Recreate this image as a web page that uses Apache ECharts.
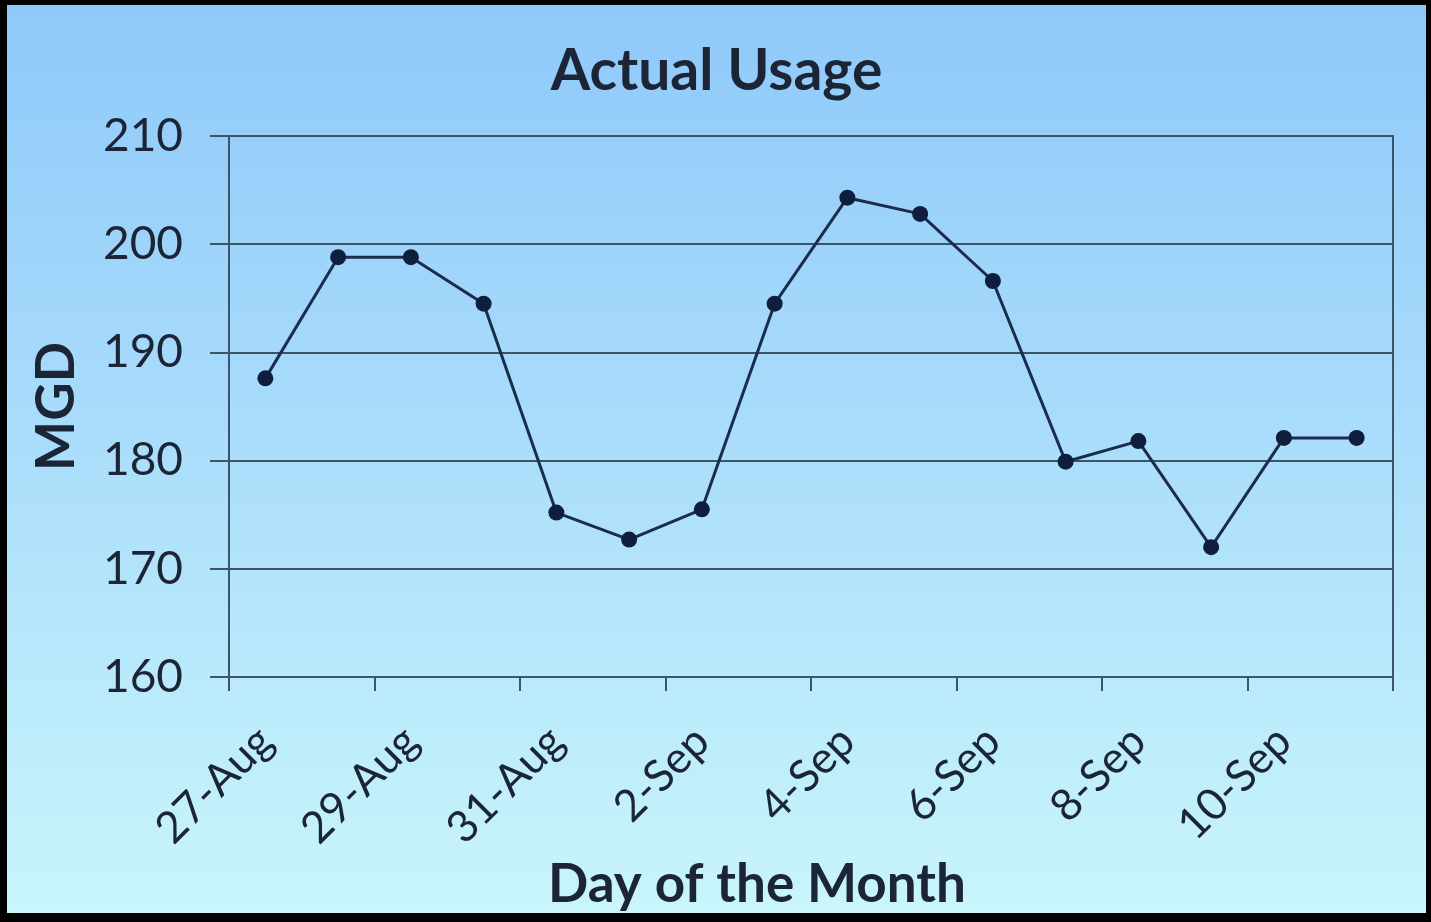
<!DOCTYPE html>
<html>
<head>
<meta charset="utf-8">
<title>Actual Usage</title>
<script src="https://cdn.jsdelivr.net/npm/echarts@6/dist/echarts.min.js"></script>
<style>
  html, body { margin: 0; padding: 0; background: #000; }
  #chart { position: absolute; left: 7px; top: 5px; width: 1419px; height: 908px; }
</style>
</head>
<body>
<div id="chart"></div>
<script>
// 每日用水量 (MGD)
const days = ['27-Aug', '28-Aug', '29-Aug', '30-Aug', '31-Aug', '1-Sep', '2-Sep', '3-Sep',
  '4-Sep', '5-Sep', '6-Sep', '7-Sep', '8-Sep', '9-Sep', '10-Sep', '11-Sep']
const usage = [187.6, 198.8, 198.8, 194.5, 175.2, 172.7, 175.5, 194.5,
  204.3, 202.8, 196.6, 179.9, 181.8, 172.0, 182.1, 182.1]
const yTicks = [160, 210, 10] // min, max, interval

const textColor = '#1b2535'
const lineColor = '#3c5468'
const font = 'Lato'

const chart = echarts.init(document.getElementById('chart'))

chart.setOption({
  backgroundColor: new echarts.graphic.LinearGradient(0, 0, 0, 1, [
    { offset: 0, color: '#8fc9fa' },
    { offset: 0.5, color: '#abdefb' },
    { offset: 1, color: '#c9f5fb' }
  ]),
  animation: false,
  title: {
    text: 'Actual Usage',
    left: 'center',
    top: 33,
    textStyle: { fontFamily: font, fontSize: 57, fontWeight: 'bold', color: textColor }
  },
  grid: {
    left: 222,
    right: 33,
    top: 131,
    bottom: 236,
    outerBoundsMode: 'none',
    show: true,
    borderColor: lineColor,
    borderWidth: 2,
    backgroundColor: 'transparent'
  },
  xAxis: {
    type: 'category',
    data: days,
    boundaryGap: true,
    name: 'Day of the Month',
    nameLocation: 'middle',
    nameGap: 176,
    nameTextStyle: {
      fontFamily: font, fontSize: 53, fontWeight: 'bold', color: textColor,
      padding: [0, 108, 0, 0]
    },
    axisLine: { show: true, lineStyle: { color: lineColor, width: 2 } },
    axisTick: { show: true, interval: 1, length: 14, lineStyle: { color: lineColor, width: 2 } },
    axisLabel: {
      interval: 1,
      rotate: 45,
      margin: 57,
      fontFamily: font,
      fontSize: 44,
      color: textColor
    }
  },
  yAxis: {
    type: 'value',
    min: yTicks[0],
    max: yTicks[1],
    interval: yTicks[2],
    name: 'MGD',
    nameLocation: 'middle',
    nameGap: 146,
    nameTextStyle: { fontFamily: font, fontSize: 53, fontWeight: 'bold', color: textColor },
    axisLine: { show: true, lineStyle: { color: lineColor, width: 2 } },
    axisTick: { show: true, length: 19, lineStyle: { color: lineColor, width: 2 } },
    axisLabel: { margin: 46, fontFamily: font, fontSize: 46, color: textColor },
    splitLine: { lineStyle: { color: lineColor, width: 2 } }
  },
  series: [{
    type: 'line',
    data: usage,
    symbol: 'circle',
    symbolSize: 16,
    itemStyle: { color: '#0f1e3c' },
    lineStyle: { color: '#1c2c4c', width: 3 }
  }]
})
</script>
</body>
</html>
